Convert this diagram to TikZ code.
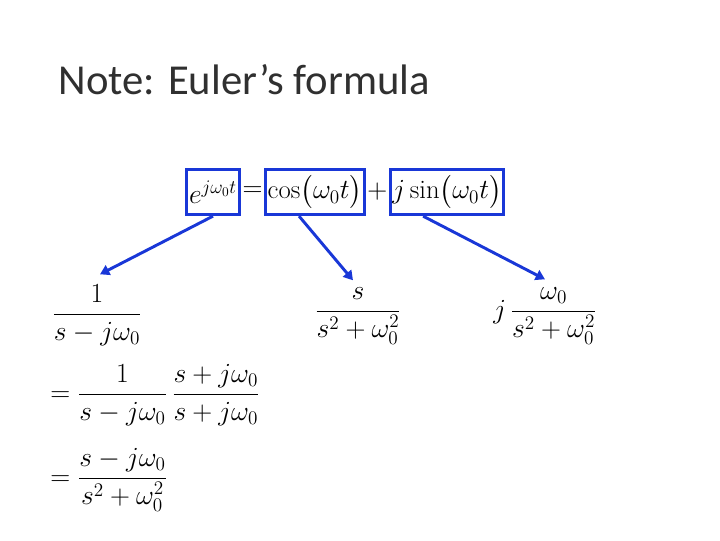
\documentclass[tikz,border=0pt]{standalone}
\usepackage{amsmath}
\usepackage{fontspec}
\newfontfamily\titlefont{Carlito}
\usetikzlibrary{arrows.meta,positioning}
\definecolor{boxblue}{RGB}{25,55,215}
\tikzset{
  termbox/.style={draw=boxblue, line width=2.2pt, inner sep=1.5pt, minimum height=34pt},
  pointer/.style={draw=boxblue, line width=2.2pt, -{Triangle[length=7pt,width=8pt]}},
  eq/.style={font=\fontsize{20}{24}\selectfont, inner sep=0pt}
}
\begin{document}
\begin{tikzpicture}[x=0.75pt, y=-0.75pt]
\useasboundingbox (0,0) rectangle (720,540);
\node[right, font=\titlefont\fontsize{32}{38}\selectfont\addfontfeature{Color=303030}] (title) at (54,80) {Note: Euler’s formula};
% Euler's formula with boxed terms
\node[termbox, eq, inner sep=1.5pt, minimum width=40pt] (expo) at (213,192) {$e^{j\omega_0 t}$};
\node[eq, right=1pt of expo] (eqsign) {$=$};
\node[termbox, eq, inner sep=1.5pt, right=1pt of eqsign] (cosine) {$\cos\!\big(\omega_0 t\big)$};
\node[eq, right=1pt of cosine] (plus) {$+$};
\node[termbox, eq, inner sep=1.5pt, right=1pt of plus] (sine) {$j\sin\!\big(\omega_0 t\big)$};
% transforms
\node[eq] (fexp) at (97,315) {$\dfrac{1}{s-j\omega_0}$};
\node[eq] (fcos) at (358,316) {$\dfrac{s}{s^2+\omega_0^2}$};
\node[eq] (fsin) at (545,316) {$j\,\dfrac{\omega_0}{s^2+\omega_0^2}$};
\node[eq, right] (stepa) at (50,395) {$=\dfrac{1}{s-j\omega_0}\,\dfrac{s+j\omega_0}{s+j\omega_0}$};
\node[eq, right] (stepb) at (50,480) {$=\dfrac{s-j\omega_0}{s^2+\omega_0^2}$};
% arrows
\draw[pointer] (expo.south) -- ([shift={(3,-10)}]fexp.north);
\draw[pointer] ([xshift=-12pt]cosine.south) -- ([shift={(-5,-7)}]fcos.north);
\draw[pointer] ([xshift=-18pt]sine.south) -- ([shift={(0,-8)}]fsin.north);
\end{tikzpicture}
\end{document}
